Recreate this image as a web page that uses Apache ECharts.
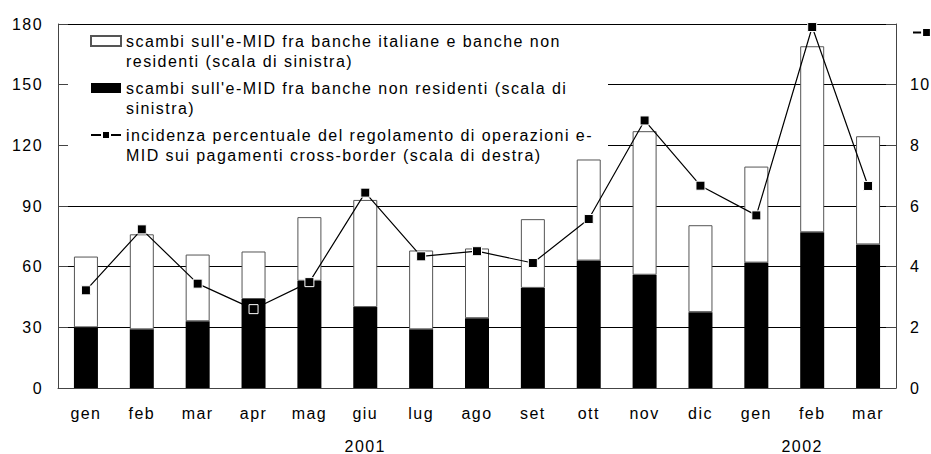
<!DOCTYPE html>
<html>
<head>
<meta charset="utf-8">
<script src="https://cdn.jsdelivr.net/npm/echarts@6/dist/echarts.min.js"></script>
<style>
    html, body { margin: 0; padding: 0; background: #fff; }
    #main { width: 931px; height: 454px; }
    #main text { letter-spacing: 1.45px; }
</style>
</head>
<body>
<div id="main"></div>
<script>
const mesi = ['gen', 'feb', 'mar', 'apr', 'mag', 'giu', 'lug', 'ago', 'set', 'ott', 'nov', 'dic', 'gen', 'feb', 'mar'];
const anni = ['', '', '', '', '', '2001', '', '', '', '', '', '', '', '2002', ''];

// scambi fra banche non residenti (parte nera)
const nonResidenti = [30, 29, 33, 44, 53, 40, 29, 34.5, 49.5, 63, 56, 37.5, 62, 77, 71];
// scambi fra banche italiane e non residenti (parte bianca, sopra)
const italianeNonRes = [35, 47, 33, 23.5, 31.5, 53, 39, 34.5, 34, 50, 71, 43, 47.5, 92, 53.5];
// incidenza percentuale (scala di destra)
const incidenza = [3.22, 5.23, 3.44, 2.6, 3.49, 6.44, 4.34, 4.51, 4.12, 5.57, 8.82, 6.67, 5.69, 11.9, 6.66];

const nomeBianca = "scambi sull'e-MID fra banche italiane e banche non\nresidenti (scala di sinistra)";
const nomeNera = "scambi sull'e-MID fra banche non residenti (scala di\nsinistra)";
const nomeLinea = "incidenza percentuale del regolamento di operazioni e-\nMID sui pagamenti cross-border (scala di destra)";

const font = 'Liberation Sans';

function chartInit() {
    const chart = echarts.init(document.getElementById('main'), null, { renderer: 'svg' });

    const option = {
        animation: false,
        textStyle: { fontFamily: font, color: '#000' },
        grid: { left: 58, right: 35, top: 24, bottom: 66, outerBoundsMode: 'none', containLabel: false },
        graphic: [
            {
                type: 'rect',
                left: 68,
                top: 27,
                z: 1,
                shape: { width: 540, height: 138 },
                style: { fill: '#fff' }
            }
        ],
        legend: [
            {
                orient: 'vertical',
                left: 90,
                top: 11,
                padding: 0,
                itemWidth: 30,
                itemHeight: 10,
                itemGap: -13,
                // riga vuota in testa: la prima riga del testo resta allineata all'icona
                formatter: (name) => '\n' + name,
                textStyle: { fontSize: 16, lineHeight: 20, color: '#000', fontFamily: font },
                data: [
                    { name: nomeBianca, icon: 'rect' },
                    { name: nomeNera, icon: 'rect' },
                    { name: nomeLinea }
                ]
            },
            {
                left: 912,
                top: 27,
                padding: 0,
                itemWidth: 27,
                itemHeight: 11,
                formatter: () => '',
                data: [{ name: nomeLinea }]
            }
        ],
        xAxis: {
            type: 'category',
            data: mesi,
            axisLine: { lineStyle: { color: '#444' } },
            axisTick: { inside: true, length: 5, lineStyle: { color: '#444' } },
            splitLine: {
                show: true,
                interval: (i) => i === 12,
                lineStyle: { color: '#777', width: 1 }
            },
            axisLabel: {
                interval: 0,
                margin: 15,
                fontSize: 16,
                lineHeight: 20,
                color: '#000',
                fontFamily: font,
                formatter: (v, i) => {
                    if (!anni[i]) return v;
                    const stile = i > 11 ? 'z' : 'y';
                    return v + '\n{' + stile + '|' + anni[i] + '}';
                },
                rich: {
                    y: { fontSize: 16, lineHeight: 46, color: '#000', fontFamily: font },
                    z: { fontSize: 16, lineHeight: 46, color: '#000', fontFamily: font, padding: [0, 20, 0, 0] }
                }
            }
        },
        yAxis: [
            {
                type: 'value',
                min: 0,
                max: 180,
                interval: 30,
                axisLine: { show: true, lineStyle: { color: '#444' } },
                axisTick: { show: true, inside: true, length: 10, lineStyle: { color: '#444' } },
                splitLine: { lineStyle: { color: '#000', width: 1 } },
                axisLabel: { margin: 15, fontSize: 16, color: '#000', fontFamily: font }
            },
            {
                type: 'value',
                min: 0,
                max: 12,
                interval: 2,
                axisLine: { show: true, lineStyle: { color: '#444' } },
                axisTick: { show: true, inside: true, length: 10, lineStyle: { color: '#444' } },
                splitLine: { show: false },
                axisLabel: {
                    margin: 14,
                    fontSize: 16,
                    color: '#000',
                    fontFamily: font,
                    formatter: (v) => (v === 12 ? '' : v)
                }
            }
        ],
        series: [
            {
                name: nomeNera,
                type: 'bar',
                stack: 'scambi',
                barWidth: 24,
                data: nonResidenti,
                itemStyle: { color: '#000' }
            },
            {
                name: nomeBianca,
                type: 'bar',
                stack: 'scambi',
                barWidth: 24,
                data: italianeNonRes,
                itemStyle: { color: '#fff', borderColor: '#555', borderWidth: 1 }
            },
            {
                name: nomeLinea,
                type: 'line',
                yAxisIndex: 1,
                data: incidenza,
                symbol: 'rect',
                symbolSize: 9,
                lineStyle: { color: '#000', width: 1.2 },
                itemStyle: { color: '#000', borderColor: '#fff', borderWidth: 1 },
                z: 3
            }
        ]
    };

    chart.setOption(option);
}

chartInit();
</script>
</body>
</html>
